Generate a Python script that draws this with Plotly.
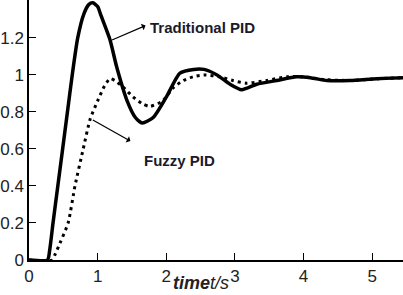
import plotly.graph_objects as go

# Traditional PID (solid)
trad_t = [0, 0.27, 0.3, 0.35, 0.42, 0.49, 0.56, 0.63, 0.71, 0.8, 0.87, 0.93, 1.0, 1.05,
          1.18, 1.28, 1.43, 1.55, 1.65, 1.81, 2.0, 2.2, 2.4, 2.55, 2.74, 2.93, 3.1, 3.32,
          3.61, 3.9, 4.1, 4.34, 4.68, 5.07, 5.45]
trad_y = [0, 0, 0.05, 0.2, 0.4, 0.6, 0.8, 1.0, 1.2, 1.33, 1.38, 1.39, 1.37, 1.32,
          1.19, 1.04, 0.86, 0.77, 0.74, 0.77, 0.88, 1.01, 1.03, 1.03, 1.0, 0.95, 0.92, 0.95,
          0.97, 0.99, 0.985, 0.97, 0.97, 0.98, 0.985]

# Fuzzy PID (dotted)
fuzzy_t = [0, 0.34, 0.38, 0.45, 0.57, 0.67, 0.79, 0.89, 1.0, 1.1, 1.18, 1.25, 1.37, 1.52, 1.65,
           1.76, 1.95, 2.1, 2.25, 2.39, 2.55, 2.78, 2.97, 3.17, 3.46, 3.76, 4.0, 4.3, 4.7,
           5.1, 5.45]
fuzzy_y = [0, 0, 0.03, 0.09, 0.2, 0.4, 0.6, 0.76, 0.86, 0.94, 0.98, 0.97, 0.935, 0.88, 0.845,
           0.83, 0.86, 0.93, 0.97, 0.99, 1.0, 0.99, 0.97, 0.955, 0.97, 0.99, 0.99, 0.975, 0.97,
           0.98, 0.985]

x_ticks = [0, 1, 2, 3, 4, 5]
y_ticks = [0, 0.2, 0.4, 0.6, 0.8, 1, 1.2]
y_tick_text = ["0", "0.2", "0.4", "0.6", "0.8", "1", "1.2"]

FONT = "Liberation Sans, Arial, sans-serif"

fig = go.Figure()
fig.add_trace(go.Scatter(x=trad_t, y=trad_y, mode="lines",
                         line=dict(color="black", width=3.5, shape="spline", smoothing=0.6),
                         name="Traditional PID"))
fig.add_trace(go.Scatter(x=fuzzy_t, y=fuzzy_y, mode="lines",
                         line=dict(color="black", width=3, dash="3px,4px", shape="spline",
                                   smoothing=0.6),
                         name="Fuzzy PID"))

fig.update_layout(
    width=403, height=295,
    margin=dict(l=29, r=0, t=0, b=35),
    paper_bgcolor="white", plot_bgcolor="white",
    showlegend=False,
    font=dict(family=FONT, color="#111"),
    xaxis=dict(range=[0, 5.45], tickvals=x_ticks, ticks="inside", ticklen=7, tickwidth=1,
               tickcolor="black", showline=True, linecolor="black", linewidth=2,
               showgrid=False, zeroline=False, automargin=False,
               tickfont=dict(size=17, family=FONT, color="#222")),
    yaxis=dict(range=[0, 1.405], tickvals=y_ticks, ticktext=y_tick_text, ticks="inside",
               ticklen=7, tickwidth=1, tickcolor="black", showline=True, linecolor="black",
               linewidth=1.5, showgrid=False, zeroline=False, automargin=False,
               tickfont=dict(size=17, family=FONT, color="#222")),
)

# arrows (heads point at the labels)
fig.add_annotation(x=1.21, y=1.189, ax=1.72, ay=1.27, xref="x", yref="y", axref="x", ayref="y",
                   text="", showarrow=True, arrowside="start", arrowhead=2, arrowsize=1,
                   arrowwidth=1.2, arrowcolor="black")
fig.add_annotation(x=0.93, y=0.757, ax=1.50, ay=0.638, xref="x", yref="y", axref="x", ayref="y",
                   text="", showarrow=True, arrowside="start", arrowhead=2, arrowsize=1,
                   arrowwidth=1.2, arrowcolor="black")

fig.add_annotation(x=1.735, y=1.254, xref="x", yref="y", xanchor="left", yanchor="middle",
                   text="<b>Traditional PID</b>", showarrow=False,
                   font=dict(size=15, family=FONT, color="#1a1a2a"))
fig.add_annotation(x=1.647, y=0.54, xref="x", yref="y", xanchor="left", yanchor="middle",
                   text="<b>Fuzzy PID</b>", showarrow=False,
                   font=dict(size=15, family=FONT, color="#1a1a2a"))

fig.add_annotation(x=0.46, y=-0.09, xref="paper", yref="paper", xanchor="center",
                   yanchor="middle", text="<b><i>time</i></b><i>t/s</i>", showarrow=False,
                   font=dict(size=18, family=FONT, color="#222"))

fig.write_html("out.html", config={"displayModeBar": False},
               post_script="document.body.style.margin='0';")
